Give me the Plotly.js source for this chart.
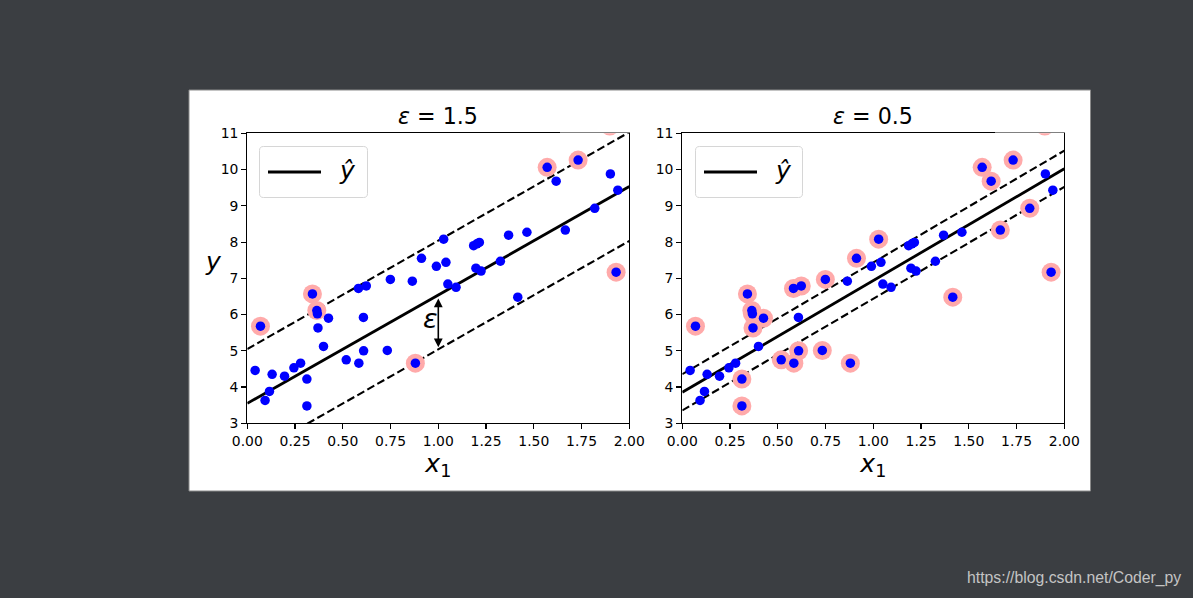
<!DOCTYPE html>
<html>
<head>
<meta charset="utf-8">
<script src="https://cdn.plot.ly/plotly-3.0.1.min.js"></script>
<style>
  html, body { margin: 0; padding: 0; background: #3b3e42; }
  #chart { width: 1193px; height: 598px; }
</style>
</head>
<body>
<div id="chart"></div>
<script>
// ---- data ----
const x1 = [0.041, 0.069, 0.093, 0.116, 0.130, 0.195, 0.244, 0.279, 0.312, 0.312,
            0.341, 0.364, 0.367, 0.370, 0.399, 0.425, 0.518, 0.582, 0.584, 0.608,
            0.609, 0.623, 0.733, 0.749, 0.864, 0.880, 0.912, 0.990, 1.028, 1.040,
            1.050, 1.093, 1.185, 1.197, 1.202, 1.215, 1.224, 1.325, 1.368, 1.416,
            1.464, 1.570, 1.617, 1.665, 1.732, 1.819, 1.898, 1.901, 1.931, 1.940];
const yVals = [4.46, 5.68, 3.63, 3.88, 4.35, 4.30, 4.53, 4.66, 4.22, 3.48,
               6.57, 6.11, 6.02, 5.63, 5.12, 5.90, 4.75, 6.72, 4.66, 5.92,
               5.00, 6.79, 5.01, 6.97, 6.92, 4.66, 7.55, 7.33, 8.08, 7.44,
               6.84, 6.75, 7.90, 7.28, 7.95, 7.99, 7.20, 7.47, 8.19, 6.48,
               8.27, 10.06, 9.68, 8.33, 10.26, 8.93, 11.20, 9.88, 7.17, 9.43];

// support vectors (indices into x1 / yVals) highlighted in each panel
const svIdxEps15 = [1, 10, 11, 25, 41, 44, 46, 48];
const svIdxEps05 = [1, 8, 9, 10, 11, 12, 13, 15, 16, 17, 18, 20, 21, 22, 23, 25, 26,
                    28, 39, 41, 42, 43, 44, 45, 46, 48];

// model lines: endpoints at x = 0 and x = 2
const lineX = [0, 2];
const yhatEps15 = [3.55, 9.53];
const upperEps15 = [5.05, 11.03];
const lowerEps15 = [2.05, 8.03];
const yhatEps05 = [3.855, 10.02];
const upperEps05 = [4.355, 10.52];
const lowerEps05 = [3.355, 9.52];

// epsilon arrow (left panel)
const epsArrowX = 1.0;
const epsArrowTop = 6.54;
const epsArrowBottom = 5.04;

const panelTitles = ['<i>ε</i> = 1.5', '<i>ε</i> = 0.5'];
const xTickVals = [0, 0.25, 0.5, 0.75, 1.0, 1.25, 1.5, 1.75, 2.0];
const xTickText = ['0.00', '0.25', '0.50', '0.75', '1.00', '1.25', '1.50', '1.75', '2.00'];
const yTickVals = [3, 4, 5, 6, 7, 8, 9, 10, 11];
const yTickText = ['3', '4', '5', '6', '7', '8', '9', '10', '11'];
const legendLabel = '<i>ŷ</i>';
const watermark = 'https://blog.csdn.net/Coder_py';

// ---- layout helpers (pixel -> paper) ----
const W = 1193, H = 598;
const px = v => v / W;
const py = v => 1 - v / H;

function roundRect(x0, y0, x1, y1, r) {
  const P = (x, y) => px(x).toFixed(5) + ',' + py(y).toFixed(5);
  return 'M' + P(x0 + r, y0) + ' L' + P(x1 - r, y0) + ' Q' + P(x1, y0) + ' ' + P(x1, y0 + r) +
         ' L' + P(x1, y1 - r) + ' Q' + P(x1, y1) + ' ' + P(x1 - r, y1) +
         ' L' + P(x0 + r, y1) + ' Q' + P(x0, y1) + ' ' + P(x0, y1 - r) +
         ' L' + P(x0, y0 + r) + ' Q' + P(x0, y0) + ' ' + P(x0 + r, y0) + ' Z';
}

function panelTraces(xa, ya, yhat, up, lo, svIdx) {
  return [
    {x: lineX, y: yhat, xaxis: xa, yaxis: ya, mode: 'lines', line: {color: 'black', width: 2.8}, name: 'ŷ', showlegend: false, hoverinfo: 'skip', cliponaxis: true},
    {x: lineX, y: up, xaxis: xa, yaxis: ya, mode: 'lines', line: {color: 'black', width: 2.1, dash: '8px,3.5px'}, showlegend: false, hoverinfo: 'skip', cliponaxis: true},
    {x: lineX, y: lo, xaxis: xa, yaxis: ya, mode: 'lines', line: {color: 'black', width: 2.1, dash: '8px,3.5px'}, showlegend: false, hoverinfo: 'skip', cliponaxis: true},
    {x: svIdx.map(i => x1[i]), y: svIdx.map(i => yVals[i]), xaxis: xa, yaxis: ya, mode: 'markers', cliponaxis: true,
     marker: {color: '#FFAAAA', size: 19, line: {width: 0}}, showlegend: false},
    {x: x1, y: yVals, xaxis: xa, yaxis: ya, mode: 'markers', cliponaxis: true,
     marker: {color: '#0000FF', size: 9.5, line: {width: 0}}, showlegend: false}
  ];
}

const data = [
  ...panelTraces('x', 'y', yhatEps15, upperEps15, lowerEps15, svIdxEps15),
  ...panelTraces('x2', 'y2', yhatEps05, upperEps05, lowerEps05, svIdxEps05)
];

const axisCommon = {
  showgrid: false, zeroline: false, showline: true, linecolor: 'black', linewidth: 1.1,
  mirror: true, ticks: 'outside', ticklen: 5, tickwidth: 1.1, tickcolor: 'black',
  tickfont: {size: 13.9, color: 'black', family: 'DejaVu Sans'}, fixedrange: true
};
const xTitle = {text: '<i>x</i><sub>1</sub>', font: {size: 25, family: 'DejaVu Sans', color: 'black'}, standoff: 6};

const yDom = [py(423.3), py(133.3)];

const layout = {
  width: W, height: H,
  margin: {l: 0, r: 0, t: 0, b: 0},
  paper_bgcolor: '#3b3e42', plot_bgcolor: 'white',
  font: {family: 'DejaVu Sans', color: 'black'},
  showlegend: false,
  xaxis: Object.assign({}, axisCommon, {domain: [px(247.3), px(629.3)], range: [0, 2], anchor: 'y',
    tickmode: 'array', tickvals: xTickVals, ticktext: xTickText, title: xTitle}),
  yaxis: Object.assign({}, axisCommon, {domain: yDom, range: [3, 11], anchor: 'x',
    tickmode: 'array', tickvals: yTickVals, ticktext: yTickText}),
  xaxis2: Object.assign({}, axisCommon, {domain: [px(682.3), px(1064.3)], range: [0, 2], anchor: 'y2',
    tickmode: 'array', tickvals: xTickVals, ticktext: xTickText, title: xTitle}),
  yaxis2: Object.assign({}, axisCommon, {domain: yDom, range: [3, 11], anchor: 'x2',
    tickmode: 'array', tickvals: yTickVals, ticktext: yTickText}),
  shapes: [
    {type: 'rect', xref: 'paper', yref: 'paper', x0: px(189), x1: px(1090.5), y0: py(491), y1: py(90),
     fillcolor: 'white', line: {color: '#8a8a8a', width: 1}, layer: 'below'},
    // white strips above the plot areas: keep marks clipped at the top spine as in the reference
    {type: 'rect', xref: 'paper', yref: 'paper', x0: px(560), x1: px(640), y0: py(132.6), y1: py(110),
     fillcolor: 'white', line: {width: 0}, layer: 'above'},
    {type: 'rect', xref: 'paper', yref: 'paper', x0: px(995), x1: px(1075), y0: py(132.6), y1: py(110),
     fillcolor: 'white', line: {width: 0}, layer: 'above'},
    // legend boxes
    {type: 'path', xref: 'paper', yref: 'paper', path: roundRect(259.5, 146.5, 367.5, 197.5, 4),
     fillcolor: 'rgba(255,255,255,0.8)', line: {color: '#d6d6d6', width: 1}, layer: 'above'},
    {type: 'line', xref: 'paper', yref: 'paper', x0: px(268), x1: px(321), y0: py(172), y1: py(172),
     line: {color: 'black', width: 2.8}, layer: 'above'},
    {type: 'path', xref: 'paper', yref: 'paper', path: roundRect(695.5, 146.5, 802.5, 197.5, 4),
     fillcolor: 'rgba(255,255,255,0.8)', line: {color: '#d6d6d6', width: 1}, layer: 'above'},
    {type: 'line', xref: 'paper', yref: 'paper', x0: px(704), x1: px(757), y0: py(172), y1: py(172),
     line: {color: 'black', width: 2.8}, layer: 'above'}
  ],
  annotations: [
    {text: panelTitles[0], xref: 'paper', yref: 'paper', x: px(438.3), y: py(131), xanchor: 'center', yanchor: 'bottom',
     showarrow: false, font: {size: 22.2, color: 'black'}},
    {text: panelTitles[1], xref: 'paper', yref: 'paper', x: px(873.3), y: py(131), xanchor: 'center', yanchor: 'bottom',
     showarrow: false, font: {size: 22.2, color: 'black'}},
    {text: '<i>y</i>', xref: 'paper', yref: 'paper', x: px(213), y: py(262), xanchor: 'center', yanchor: 'middle',
     showarrow: false, font: {size: 25, color: 'black'}},
    {text: legendLabel, xref: 'paper', yref: 'paper', x: px(347), y: py(170), xanchor: 'center', yanchor: 'middle',
     showarrow: false, font: {size: 25, color: 'black'}},
    {text: legendLabel, xref: 'paper', yref: 'paper', x: px(783), y: py(170), xanchor: 'center', yanchor: 'middle',
     showarrow: false, font: {size: 25, color: 'black'}},
    {text: '', xref: 'x', yref: 'y', x: epsArrowX, y: epsArrowBottom, axref: 'x', ayref: 'y', ax: epsArrowX, ay: epsArrowTop,
     showarrow: true, arrowside: 'end+start', arrowhead: 2, arrowsize: 1.1, arrowwidth: 1.6, arrowcolor: 'black',
     standoff: 2, startstandoff: 2},
    {text: '<i>ε</i>', xref: 'x', yref: 'y', x: 0.91, y: 5.6, xanchor: 'left', yanchor: 'bottom', yshift: -7,
     showarrow: false, font: {size: 27, color: 'black'}},
    {text: watermark, xref: 'paper', yref: 'paper', x: px(1183), y: py(578), xanchor: 'right', yanchor: 'middle',
     showarrow: false, font: {size: 15.8, color: '#c4c4c4', family: 'Liberation Sans'}}
  ]
};

Plotly.newPlot('chart', data, layout, {staticPlot: true, displayModeBar: false});
</script>
</body>
</html>
